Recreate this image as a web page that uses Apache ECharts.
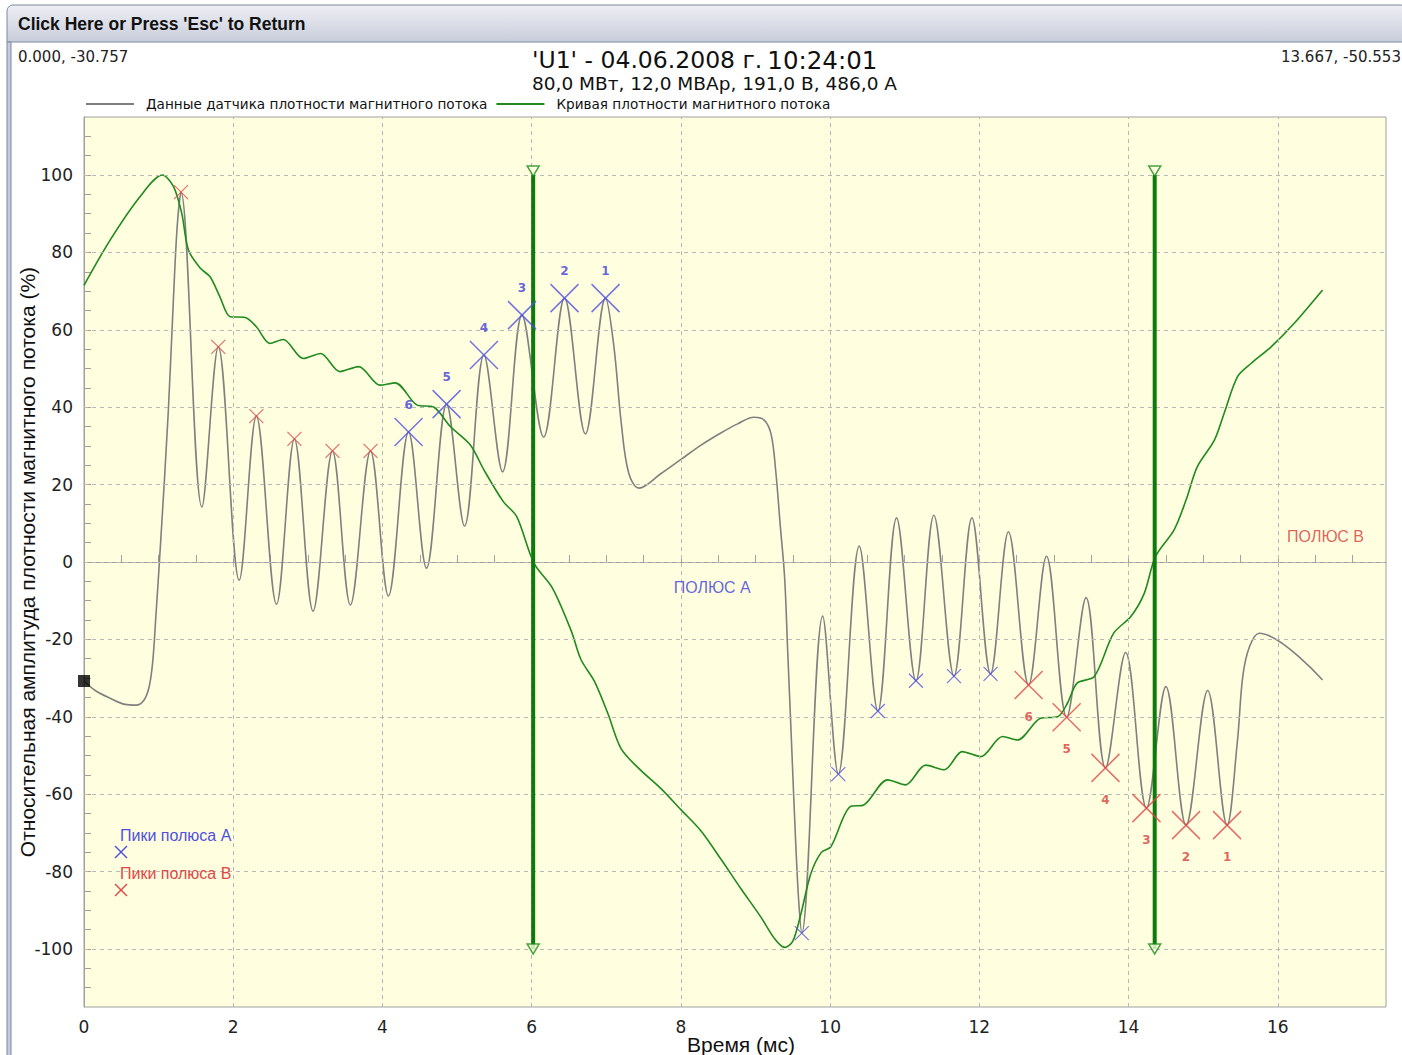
<!DOCTYPE html>
<html>
<head>
<meta charset="utf-8">
<script src="https://cdn.jsdelivr.net/npm/echarts@6/dist/echarts.min.js"></script>
<style>
  html, body { margin: 0; padding: 0; background: #ffffff; }
  #chart { width: 1402px; height: 1055px; }
</style>
</head>
<body>
<div id="chart"></div>
<script>
// Flux sensor trace: time (ms) and relative amplitude (%)
const sensorTime = [0, 0.15, 0.35, 0.55, 0.70, 0.80, 0.87, 0.92, 0.96, 1.03, 1.13, 1.20, 1.25, 1.30,
  1.58, 1.80, 2.08, 2.31, 2.58, 2.82, 3.07, 3.33, 3.57, 3.84, 4.08, 4.35, 4.59, 4.86, 5.10, 5.36,
  5.61, 5.87, 6.16, 6.44, 6.72, 6.99, 7.10, 7.20, 7.30, 7.44, 7.73, 8.00, 8.27, 8.54, 8.76, 8.98,
  9.12, 9.21, 9.27, 9.33, 9.39, 9.43, 9.48, 9.54, 9.58, 9.62, 9.90, 10.11, 10.39, 10.64, 10.89,
  11.15, 11.39, 11.66, 11.90, 12.15, 12.39, 12.66, 12.90, 13.17, 13.43, 13.69, 13.96, 14.24,
  14.50, 14.77, 15.06, 15.32, 15.46, 15.53, 15.62, 15.75, 16.60];
const sensorValue = [-30.76, -33.2, -35.2, -36.8, -37.0, -35.8, -32.5, -26, -15, 6, 39, 68.6, 87, 95.6,
  14.2, 55.6, -4.7, 37.7, -10.9, 31.8, -12.7, 28.7, -11.1, 28.7, -8.8, 33.6, -1.6, 40.8, 9.3, 53.5,
  23.3, 63.8, 32.3, 68.2, 33.1, 68.2, 56, 36, 23, 19.1, 22.8, 26.5, 30.2, 33.4, 35.7, 37.4,
  36.6, 32.9, 23.7, 9.8, -4, -22.5, -45.5, -73.2, -88, -95.9, -14, -54.8, 4.1, -38.5, 11.4,
  -30.7, 12.1, -29.5, 11.4, -28.9, 7.8, -31.8, 1.5, -40.1, -9.2, -53.2, -23.4, -63.6,
  -32.2, -68, -33.2, -68, -46, -29.6, -21.9, -18.4, -30.5];

// Flux density curve
const curveTime = [0, 0.35, 0.75, 1.05, 1.20, 1.31, 1.40, 1.56, 1.69, 1.82, 1.96, 2.16, 2.31, 2.49,
  2.67, 2.94, 3.17, 3.43, 3.68, 3.97, 4.17, 4.46, 4.69, 4.91, 5.18, 5.36, 5.62, 5.80, 6.03, 6.28,
  6.53, 6.66, 6.84, 7.02, 7.20, 7.46, 7.73, 8.00, 8.27, 8.54, 8.80, 9.07, 9.25, 9.39, 9.50, 9.61,
  9.74, 9.88, 10.01, 10.27, 10.45, 10.77, 11.01, 11.28, 11.53, 11.77, 12.02, 12.31, 12.51, 12.82,
  13.05, 13.18, 13.31, 13.54, 13.80, 14.03, 14.21, 14.36, 14.61, 14.77, 14.92, 15.15, 15.28,
  15.46, 15.64, 15.91, 16.22, 16.60];
const curveValue = [71.5, 83.2, 94.4, 100, 97, 90.1, 80.6, 75.9, 73.7, 68.6, 63.4, 63.2, 60.8, 56.5,
  57.5, 52.6, 53.9, 49.2, 50.5, 45.7, 46.3, 40.6, 40.0, 35.0, 30.2, 23.8, 15.6, 11.7, -0.3, -6.8,
  -17.8, -25.2, -30.8, -39.1, -48.3, -53.8, -58.5, -64, -69.5, -76.9, -84.3, -91.7, -97.2, -99.6, -98, -90.8,
  -80.6, -75.1, -73.6, -63.2, -62.8, -56.3, -57.6, -52.5, -53.7, -49.0, -50.3, -45.1, -46, -40.4,
  -40, -36.5, -31.3, -29.6, -18.4, -14.1, -8.1, 1.4, 8.3, 16, 24.6, 31.5, 38.4,
  47.9, 51.3, 55.6, 61.7, 70.3];

// Axis tick values
const xGridTicks = [2, 4, 6, 8, 10, 12, 14, 16];
const yGridTicks = [-100, -80, -60, -40, -20, 0, 20, 40, 60, 80, 100];

// Pole boundary cursors
const cursorTime = [6.02, 14.35];
const cursorSpan = [100, -100];

// Detected peaks
const poleBPeakT = [1.30, 1.80, 2.31, 2.82, 3.33, 3.84];
const poleBPeakV = [95.6, 55.6, 37.7, 31.8, 28.7, 28.7];
const poleARankT = [4.35, 4.86, 5.36, 5.87, 6.44, 6.99];
const poleARankV = [33.6, 40.8, 53.5, 63.8, 68.2, 68.2];
const poleARankNo = ['6', '5', '4', '3', '2', '1'];
const poleAPeakT = [9.62, 10.11, 10.64, 11.15, 11.66, 12.15];
const poleAPeakV = [-95.9, -54.8, -38.5, -30.7, -29.5, -28.9];
const poleBRankT = [12.66, 13.17, 13.69, 14.24, 14.77, 15.32];
const poleBRankV = [-31.8, -40.1, -53.2, -63.6, -68, -68];
const poleBRankNo = ['6', '5', '4', '3', '2', '1'];

// Pole zone captions
const poleNames = ['ПОЛЮС А', 'ПОЛЮС В'];
const poleNameT = [8.42, 16.64];
const poleNameV = [-6.7, 6.5];
const poleNameColor = ['#3c3cdc', '#d63a3a'];

// Cursor readouts
const cursorPoint = [0.000, -30.757];
const hoverPoint = [13.667, -50.553];

const SENSOR_NAME = 'Данные датчика плотности магнитного потока';
const CURVE_NAME = 'Кривая плотности магнитного потока';

const BLUE = '#5050e0';
const RED = '#e04848';
const BG = '#ffffe0';
const CROSS = 'path://M0,0L10,10M10,0L0,10';
const TRIANGLE = 'path://M0,0L12,0L6,10Z';
const SANS = 'Liberation Sans, Arial, sans-serif';
const WIDE = 'DejaVu Sans, Verdana, sans-serif';

const zip = (a, b) => a.map((t, i) => [t, b[i]]);
const readout = p => p[0].toFixed(3) + ', ' + p[1].toFixed(3);

const chart = echarts.init(document.getElementById('chart'), null, { renderer: 'svg' });

const crossSeries = (name, t, v, color, size, width, extra) => Object.assign({
  name: name,
  type: 'scatter',
  data: zip(t, v),
  symbol: CROSS,
  symbolSize: size,
  itemStyle: { color: 'rgba(0,0,0,0)', borderColor: color, borderWidth: width },
  z: 8,
  silent: true
}, extra || {});

const rankLabel = (ranks, color, position, distance) => ({
  label: {
    show: true,
    position: position,
    distance: distance,
    formatter: p => ranks[p.dataIndex],
    color: color,
    fontSize: 12,
    fontWeight: 'bold',
    fontFamily: WIDE
  }
});

const cursorLines = cursorTime.map(t => ({
  type: 'line',
  data: [[t, cursorSpan[0]], [t, cursorSpan[1]]],
  symbol: 'none',
  lineStyle: { color: '#0d7a0d', width: 4 },
  z: 6,
  silent: true
}));

const triangles = [];
cursorTime.forEach(t => {
  triangles.push({ value: [t, cursorSpan[0]], symbolOffset: [0, -4] });
  triangles.push({ value: [t, cursorSpan[1]], symbolOffset: [0, 0] });
});

// small cross drawn as two strokes, centred at (cx, cy)
const crossGraphic = (cx, cy, half, color) => [
  { type: 'line', shape: { x1: cx - half, y1: cy - half, x2: cx + half, y2: cy + half },
    style: { stroke: color, lineWidth: 1.4 }, silent: true, z: 20 },
  { type: 'line', shape: { x1: cx + half, y1: cy - half, x2: cx - half, y2: cy + half },
    style: { stroke: color, lineWidth: 1.4 }, silent: true, z: 20 }
];

const option = {
  animation: false,
  backgroundColor: '#ffffff',
  title: {
    left: 527,
    top: 43,
    itemGap: 0,
    text: "{a|'U1' - 04.06.2008 г.} {b|10:24:01}",
    textStyle: {
      fontWeight: 'normal',
      rich: {
        a: { fontFamily: WIDE, fontSize: 23.5, lineHeight: 24, fontWeight: 'normal', color: '#111' },
        b: { fontFamily: WIDE, fontSize: 24.5, lineHeight: 24, fontWeight: 'normal', color: '#111' }
      }
    },
    subtext: '80,0 МВт, 12,0 МВАр, 191,0 В, 486,0 А',
    subtextStyle: { fontFamily: WIDE, fontSize: 18.5, lineHeight: 20, color: '#111' }
  },
  legend: {
    left: 81,
    top: 92,
    padding: 5,
    itemWidth: 48,
    itemHeight: 2,
    itemGap: 9,
    data: [{ name: SENSOR_NAME, icon: 'rect' }, { name: CURVE_NAME, icon: 'rect' }],
    textStyle: { fontFamily: WIDE, fontSize: 13.6, color: '#111', padding: [0, 0, 0, 7] }
  },
  grid: {
    left: 84, right: 16, top: 117, bottom: 48,
    outerBoundsMode: 'none',
    show: true,
    backgroundColor: BG,
    borderColor: '#a0a0a0',
    borderWidth: 1
  },
  xAxis: {
    type: 'value',
    min: 0,
    max: 17.45,
    interval: 0.5,
    name: 'Время (мс)',
    nameLocation: 'middle',
    nameGap: 27,
    nameMoveOverlap: false,
    nameTextStyle: { fontFamily: SANS, fontSize: 21, color: '#111', padding: [0, 0, 0, 12] },
    axisLine: { lineStyle: { color: '#a0a0a0' } },
    axisTick: { inside: true, length: 7, lineStyle: { color: '#a0a0a0' } },
    axisLabel: {
      margin: 11,
      fontFamily: WIDE, fontSize: 17, color: '#222',
      showMaxLabel: false,
      formatter: v => (xGridTicks.indexOf(v) >= 0 || v === 0) ? String(v) : ''
    },
    splitLine: { show: false }
  },
  yAxis: {
    type: 'value',
    min: -115,
    max: 115,
    interval: 5,
    name: 'Относительная амплитуда плотности магнитного потока (%)',
    nameLocation: 'middle',
    nameGap: 46,
    nameMoveOverlap: false,
    nameTextStyle: { fontFamily: SANS, fontSize: 21, color: '#111' },
    axisLine: { show: true, lineStyle: { color: '#a0a0a0' } },
    axisTick: { show: true, inside: true, length: 7, lineStyle: { color: '#a0a0a0' } },
    axisLabel: {
      margin: 11,
      fontFamily: WIDE, fontSize: 17, color: '#222',
      showMinLabel: false, showMaxLabel: false,
      formatter: v => yGridTicks.indexOf(v) >= 0 ? String(v) : ''
    },
    splitLine: { show: false }
  },
  series: [
    {
      // dashed reference grid
      type: 'line',
      data: [],
      z: 1,
      silent: true,
      markLine: {
        silent: true,
        symbol: ['none', 'none'],
        label: { show: false },
        lineStyle: { type: [4, 4], color: '#b8b8b8', width: 1 },
        data: yGridTicks.map(v => ({ yAxis: v })).concat(xGridTicks.map(v => ({ xAxis: v })))
      }
    },
    {
      name: SENSOR_NAME,
      type: 'line',
      data: zip(sensorTime, sensorValue),
      symbol: 'none',
      smooth: 0.35,
      lineStyle: { color: '#808080', width: 1.6 },
      itemStyle: { color: '#808080' },
      z: 3,
      silent: true
    },
    {
      name: CURVE_NAME,
      type: 'line',
      data: zip(curveTime, curveValue),
      symbol: 'none',
      smooth: 0.3,
      lineStyle: { color: '#1f8a1f', width: 1.6 },
      itemStyle: { color: '#1f8a1f' },
      z: 4,
      silent: true
    },
    ...cursorLines,
    {
      type: 'scatter',
      data: triangles,
      symbol: TRIANGLE,
      symbolSize: [12, 10],
      itemStyle: { color: BG, borderColor: '#1a8c1a', borderWidth: 1.5 },
      z: 7,
      silent: true
    },
    crossSeries('poleBPeaks', poleBPeakT, poleBPeakV, RED, 14, 1.2),
    crossSeries('poleARanked', poleARankT, poleARankV, BLUE, 28, 1.5, rankLabel(poleARankNo, '#3d3dd8', 'top', 6)),
    crossSeries('poleAPeaks', poleAPeakT, poleAPeakV, BLUE, 14, 1.2),
    crossSeries('poleBRanked', poleBRankT, poleBRankV, RED, 28, 1.5, rankLabel(poleBRankNo, '#d83c3c', 'bottom', 11)),
    {
      type: 'scatter',
      data: [cursorPoint],
      symbol: 'rect',
      symbolSize: 12,
      itemStyle: { color: '#000' },
      z: 9,
      silent: true
    },
    {
      type: 'scatter',
      data: poleNameT.map((t, i) => ({
        value: [t, poleNameV[i]],
        label: { color: poleNameColor[i] }
      })),
      symbolSize: 1,
      silent: true,
      z: 9,
      label: {
        show: true,
        position: 'inside',
        formatter: p => poleNames[p.dataIndex],
        fontFamily: SANS,
        fontSize: 16
      },
      itemStyle: { color: 'rgba(0,0,0,0)' }
    }
  ],
  graphic: [
    {
      type: 'rect',
      shape: { x: 7, y: 5, width: 1400, height: 37, r: [6, 6, 0, 0] },
      style: {
        fill: new echarts.graphic.LinearGradient(0, 0, 0, 1, [
          { offset: 0, color: '#eeeff5' },
          { offset: 1, color: '#c9cdda' }
        ]),
        stroke: '#7f889f',
        lineWidth: 1
      },
      silent: true
    },
    {
      type: 'rect',
      shape: { x: 7, y: 42, width: 4, height: 1020 },
      style: { fill: '#c7ccda', stroke: '#7f889f', lineWidth: 1 },
      silent: true
    },
    {
      type: 'text',
      x: 18, y: 15,
      style: {
        text: "Click Here or Press 'Esc' to Return",
        font: "bold 17.5px 'Liberation Sans Narrow', 'Liberation Sans', Arial, sans-serif",
        fill: '#111'
      },
      silent: true
    },
    {
      type: 'text',
      x: 18, y: 49,
      style: { text: readout(cursorPoint), font: "15px 'DejaVu Sans', sans-serif", fill: '#222' },
      silent: true
    },
    {
      type: 'text',
      x: 1281, y: 49,
      style: { text: readout(hoverPoint), font: "15px 'DejaVu Sans', sans-serif", fill: '#222' },
      silent: true
    },
    {
      type: 'text',
      x: 120, y: 827,
      style: { text: 'Пики полюса А', font: "16px 'Liberation Sans', Arial, sans-serif", fill: BLUE },
      silent: true, z: 20
    },
    {
      type: 'text',
      x: 120, y: 865,
      style: { text: 'Пики полюса В', font: "16px 'Liberation Sans', Arial, sans-serif", fill: RED },
      silent: true, z: 20
    },
    ...crossGraphic(121, 852, 6, BLUE),
    ...crossGraphic(121, 890, 6, RED)
  ]
};

chart.setOption(option);
</script>
</body>
</html>
